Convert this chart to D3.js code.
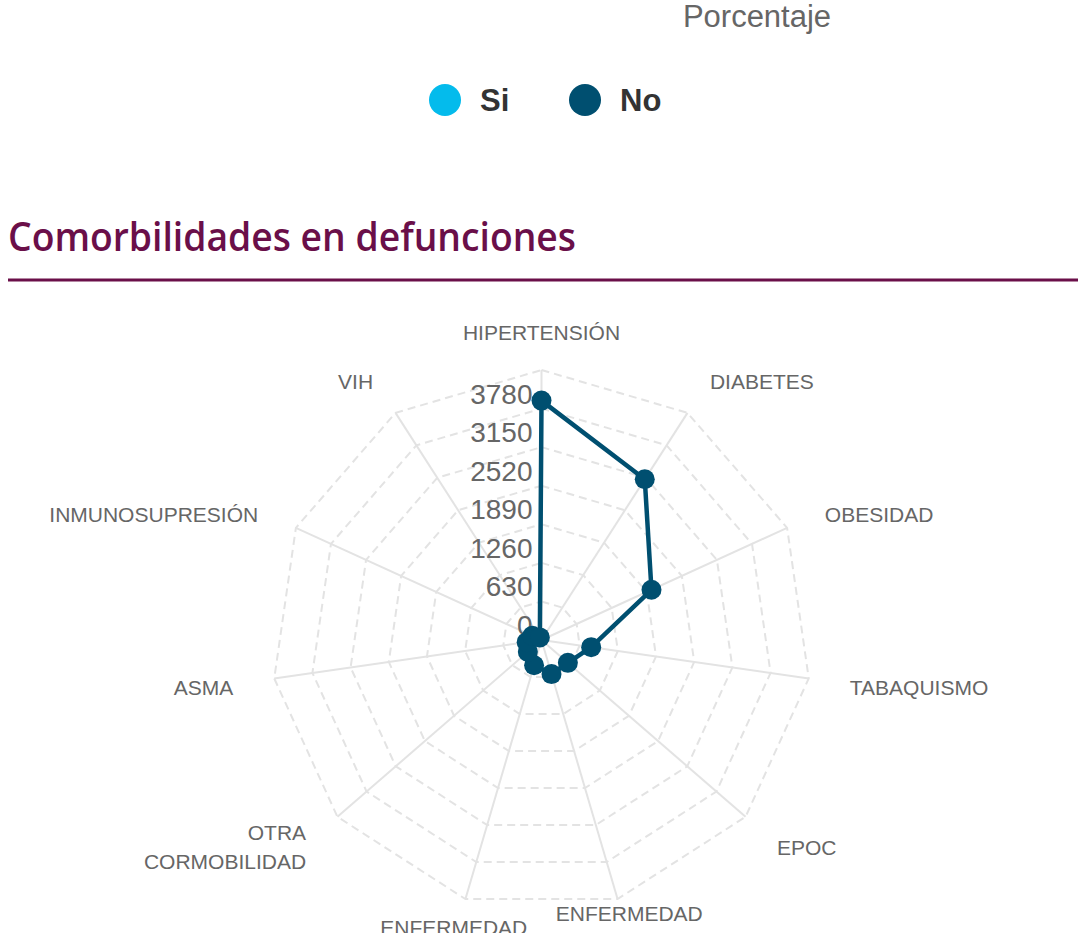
<!DOCTYPE html>
<html>
<head>
<meta charset="utf-8">
<script src="https://cdn.jsdelivr.net/npm/d3@7"></script>
<style>
  body { margin: 0; background: #fff; }
  svg { display: block; }
</style>
</head>
<body>
<script>
// Data
var categories = ["HIPERTENSIÓN", "DIABETES", "OBESIDAD", "TABAQUISMO", "EPOC",
    "ENFERMEDAD RENAL CRÓNICA", "ENFERMEDAD CARDIOVASCULAR", "OTRA CORMOBILIDAD",
    "ASMA", "INMUNOSUPRESIÓN", "VIH"];
var valuesNo = [3910, 3120, 1975, 820, 570, 580, 430, 295, 245, 165, 50];
var tickValues = [0, 630, 1260, 1890, 2520, 3150, 3780];
var ringValues = [630, 1260, 1890, 2520, 3150, 3780, 4410];
var legendLabels = ["Si", "No"];
var legendColors = ["#04bbec", "#004f70"];

var width = 1090, height = 933;
var cx = 541.5, cy = 640, radius = 270, labelRadius = 311.5;

var svg = d3.select("body").append("svg")
    .attr("width", width)
    .attr("height", height);

// Leftover axis title of the chart above
svg.append("text")
    .attr("x", 757)
    .attr("y", 27)
    .attr("text-anchor", "middle")
    .style("font-family", "'Liberation Sans', Arial, sans-serif")
    .style("font-size", "31px")
    .attr("fill", "#666")
    .text("Porcentaje");

// Legend
var legend = svg.append("g").attr("transform", "translate(0,100)");
var legendX = [445, 585];
legend.selectAll("circle")
    .data(legendLabels)
    .enter().append("circle")
    .attr("cx", (d, i) => legendX[i])
    .attr("cy", 0)
    .attr("r", 16)
    .attr("fill", (d, i) => legendColors[i]);
legend.selectAll("text")
    .data(legendLabels)
    .enter().append("text")
    .attr("x", (d, i) => legendX[i] + 35)
    .attr("y", 11)
    .style("font-family", "'Liberation Sans', Arial, sans-serif")
    .style("font-size", "31px")
    .style("font-weight", "bold")
    .attr("fill", "#333")
    .text(d => d);

// Section title and rule
svg.append("text")
    .attr("x", 8)
    .attr("y", 251)
    .attr("textLength", 568)
    .attr("lengthAdjust", "spacingAndGlyphs")
    .style("font-family", "'Open Sans', 'Noto Sans', sans-serif")
    .style("font-size", "40px")
    .style("font-weight", 600)
    .attr("fill", "#6a0f49")
    .text("Comorbilidades en defunciones");

svg.append("line")
    .attr("x1", 8).attr("x2", 1078)
    .attr("y1", 280).attr("y2", 280)
    .attr("stroke", "#6a0f49")
    .attr("stroke-width", 3);

// Radar
var r = d3.scaleLinear().domain([0, 4410]).range([0, radius]);
var angle = d3.scalePoint()
    .domain(d3.range(categories.length + 1))
    .range([0, 2 * Math.PI]);
var a = i => angle(i);

var g = svg.append("g").attr("transform", `translate(${cx},${cy})`);

// spokes
g.selectAll(".spoke")
    .data(categories)
    .enter().append("line")
    .attr("class", "spoke")
    .attr("x1", 0).attr("y1", 0)
    .attr("x2", (d, i) => r(4410) * Math.sin(a(i)))
    .attr("y2", (d, i) => -r(4410) * Math.cos(a(i)))
    .attr("stroke", "#e3e3e3")
    .attr("stroke-width", 2);

// dashed rings
var ringLine = d3.lineRadial()
    .angle((d, i) => a(i))
    .radius(d => r(d))
    .curve(d3.curveLinearClosed);

g.selectAll(".ring")
    .data(ringValues)
    .enter().append("path")
    .attr("class", "ring")
    .attr("d", v => ringLine(categories.map(() => v)))
    .attr("fill", "none")
    .attr("stroke", "#e3e3e3")
    .attr("stroke-width", 2)
    .attr("stroke-dasharray", "8,5");

// category labels
var labels = g.selectAll(".cat")
    .data(categories)
    .enter().append("text")
    .attr("class", "cat")
    .style("font-family", "'Liberation Sans', Arial, sans-serif")
    .style("font-size", "21px")
    .attr("fill", "#666")
    .attr("text-anchor", (d, i) => {
        var s = Math.sin(a(i));
        return Math.abs(s) < 0.3 ? "middle" : (s > 0 ? "start" : "end");
    });

labels.each(function(d, i) {
    var px = labelRadius * Math.sin(a(i));
    var py = -labelRadius * Math.cos(a(i)) + 3.5;
    var words = d.split(" ");
    var lh = 29;
    var y0 = py - (words.length - 1) * lh / 2;
    d3.select(this).selectAll("tspan")
        .data(words)
        .enter().append("tspan")
        .attr("x", px)
        .attr("y", (w, j) => y0 + j * lh)
        .attr("dominant-baseline", "central")
        .text(w => w);
});

// series "No"
var seriesLine = d3.lineRadial()
    .angle((d, i) => a(i))
    .radius(d => r(d))
    .curve(d3.curveLinearClosed);

g.append("path")
    .attr("d", seriesLine(valuesNo))
    .attr("fill", "none")
    .attr("stroke", legendColors[1])
    .attr("stroke-width", 4.5)
    .attr("stroke-linejoin", "round");

// tick labels along the top axis
g.selectAll(".tick")
    .data(tickValues)
    .enter().append("text")
    .attr("class", "tick")
    .attr("x", -9)
    .attr("y", d => -r(d) - 5)
    .attr("text-anchor", "end")
    .style("font-family", "'Liberation Sans', Arial, sans-serif")
    .style("font-size", "28px")
    .attr("fill", "#666")
    .text(d => d);

g.selectAll(".dot")
    .data(valuesNo)
    .enter().append("circle")
    .attr("class", "dot")
    .attr("cx", (d, i) => r(d) * Math.sin(a(i)))
    .attr("cy", (d, i) => -r(d) * Math.cos(a(i)))
    .attr("r", 10)
    .attr("fill", legendColors[1]);
</script>
</body>
</html>
